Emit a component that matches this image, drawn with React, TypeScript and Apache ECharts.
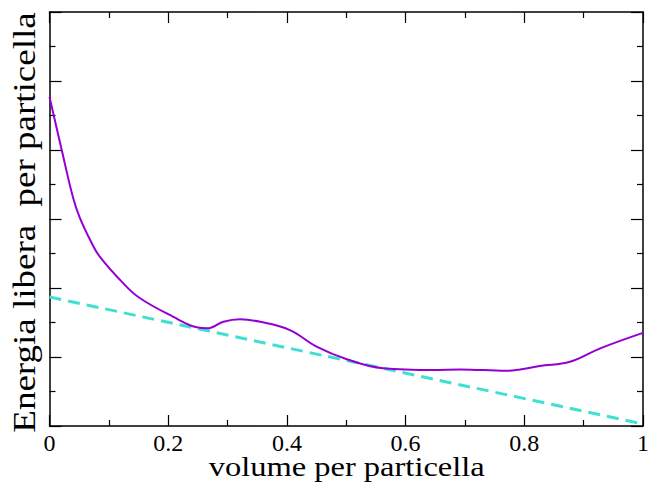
import React, { useEffect, useRef } from "react";
import * as echarts from "echarts";

const purpleX = [0, 0.0206, 0.04, 0.051, 0.07, 0.085, 0.124, 0.152, 0.208, 0.248, 0.266, 0.293, 0.321, 0.355, 0.405, 0.45, 0.501, 0.562, 0.647, 0.692, 0.77, 0.793, 0.826, 0.877, 0.928, 1.0];
const purpleY = [4.77, 4.0, 3.3, 3.02, 2.67, 2.45, 2.07, 1.855, 1.585, 1.43, 1.415, 1.51, 1.546, 1.51, 1.39, 1.15, 0.967, 0.836, 0.81, 0.82, 0.8, 0.82, 0.87, 0.93, 1.126, 1.35];
const lineX = [0, 1];
const lineY = [1.87, 0.03];
const xTitle = "volume per particella";
const yTitle = "Energia libera  per particella";

const FONT = "Liberation Serif";

export default function App() {
  const ref = useRef<HTMLDivElement>(null);
  useEffect(() => {
    if (!ref.current) return;
    const chart = echarts.init(ref.current, undefined, { renderer: "svg" });
    const axisCommon = (show: boolean) => ({
      type: "value" as const,
      min: 0,
      max: 1,
      interval: 0.2,
      axisLine: { show: true, onZero: false, lineStyle: { color: "#000", width: 1.5 } },
      axisTick: { show: true, inside: true, length: 11, lineStyle: { color: "#000", width: 1.2 } },
      minorTick: { show: true, splitNumber: 2, length: 6, lineStyle: { color: "#000", width: 1.2 } },
      splitLine: { show: false },
      minorSplitLine: { show: false },
      axisLabel: {
        show,
        color: "#000",
        fontFamily: FONT,
        fontSize: 24,
        margin: 5,
      },
    });
    const yCommon = () => ({
      type: "value" as const,
      min: 0,
      max: 6,
      interval: 1,
      axisLine: { show: true, onZero: false, lineStyle: { color: "#000", width: 1.5 } },
      axisTick: { show: true, inside: true, length: 12, lineStyle: { color: "#000", width: 1.2 } },
      minorTick: { show: true, splitNumber: 2, length: 6, lineStyle: { color: "#000", width: 1.2 } },
      splitLine: { show: false },
      axisLabel: { show: false },
    });
    chart.setOption({
      animation: false,
      grid: { left: 49.5, right: 7, top: 12, bottom: 58, outerBoundsMode: "none" },
      xAxis: [
        { ...axisCommon(true), position: "bottom" },
        { ...axisCommon(false), position: "top" },
      ],
      yAxis: [
        { ...yCommon(), position: "left" },
        { ...yCommon(), position: "right" },
      ],
      series: [
        {
          type: "line",
          data: lineX.map((x, i) => [x, lineY[i]]),
          showSymbol: false,
          symbol: "none",
          lineStyle: { color: "#40E0D0", width: 3, type: [12, 7] },
          z: 2,
        },
        {
          type: "line",
          data: purpleX.map((x, i) => [x, purpleY[i]]),
          smooth: 0.4,
          showSymbol: false,
          symbol: "none",
          lineStyle: { color: "#9400D3", width: 2 },
          z: 3,
        },
      ],
      graphic: [
        {
          type: "text",
          x: 346.7,
          y: 467,
          scaleY: 0.87,
          style: {
            text: xTitle,
            font: `32.5px "${FONT}"`,
            fill: "#000",
            align: "center",
            verticalAlign: "middle",
            textAlign: "center",
            textVerticalAlign: "middle",
          },
        },
        {
          type: "text",
          x: 25,
          y: 222.5,
          rotation: Math.PI / 2,
          scaleY: 0.84,
          style: {
            text: yTitle,
            font: `37px "${FONT}"`,
            fill: "#000",
            align: "center",
            verticalAlign: "middle",
            textAlign: "center",
            textVerticalAlign: "middle",
          },
        },
      ],
    });
    return () => chart.dispose();
  }, []);
  return <div ref={ref} style={{ width: 650, height: 484, position: "absolute", left: 0, top: 0 }} />;
}
